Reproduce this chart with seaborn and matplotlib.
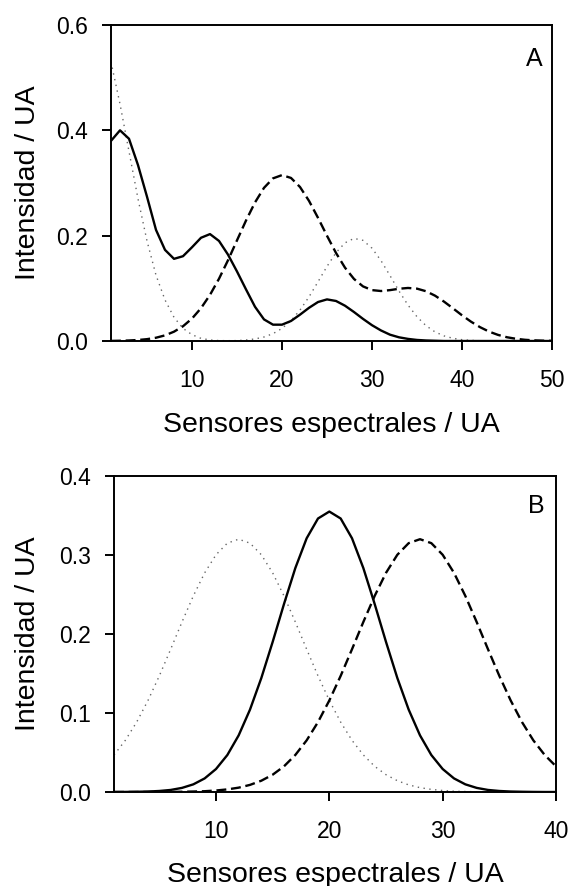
import numpy as np
import pandas as pd
import matplotlib
matplotlib.use("Agg")
import matplotlib.pyplot as plt
import seaborn as sns

# ---------------- data ----------------
sensors_a = list(range(1, 51))
solid_a = [0.380, 0.400, 0.384, 0.334, 0.274, 0.211, 0.173, 0.156, 0.161, 0.178,
           0.196, 0.203, 0.190, 0.164, 0.132, 0.098, 0.065, 0.041, 0.031, 0.031,
           0.038, 0.050, 0.063, 0.074, 0.079, 0.076, 0.067, 0.055, 0.042, 0.030,
           0.020, 0.012, 0.007, 0.004, 0.002, 0.001, 0.0005, 0, 0, 0,
           0, 0, 0, 0, 0, 0, 0, 0, 0, 0]
dashed_a = [0.0002, 0.0005, 0.0010, 0.0019, 0.0035, 0.0062, 0.0107, 0.0177, 0.0280, 0.0426,
            0.0623, 0.0876, 0.1182, 0.1533, 0.1911, 0.2287, 0.2631, 0.2908, 0.3088, 0.3150,
            0.3096, 0.2924, 0.2661, 0.2339, 0.1998, 0.1672, 0.1392, 0.1178, 0.1037, 0.0966,
            0.0949, 0.0966, 0.0992, 0.1007, 0.0994, 0.0945, 0.0861, 0.0748, 0.0620, 0.0488,
            0.0367, 0.0263, 0.0179, 0.0116, 0.0071, 0.0042, 0.0023, 0.0012, 0.0006, 0.0003]
dotted_a = [0.530, 0.450, 0.360, 0.270, 0.190, 0.125, 0.078, 0.045, 0.024, 0.012,
            0.005, 0.002, 0.0008, 0.0006, 0.0008, 0.0019, 0.0039, 0.0076, 0.0139, 0.0239,
            0.0386, 0.0587, 0.0838, 0.1124, 0.1416, 0.1677, 0.1864, 0.1948, 0.1911, 0.1762,
            0.1526, 0.1242, 0.0949, 0.0682, 0.0460, 0.0291, 0.0173, 0.0097, 0.0051, 0.0025,
            0.0012, 0.0005, 0.0002, 0, 0, 0, 0, 0, 0, 0]

sensors_b = list(range(1, 41))
dotted_b = [0.0469, 0.0654, 0.0885, 0.1159, 0.1470, 0.1807, 0.2152, 0.2482, 0.2774, 0.3003,
            0.3150, 0.3200, 0.3150, 0.3003, 0.2774, 0.2482, 0.2152, 0.1807, 0.1470, 0.1159,
            0.0885, 0.0654, 0.0469, 0.0325, 0.0219, 0.0143, 0.0090, 0.0055, 0.0033, 0.0019,
            0.0010, 0.0006, 0.0003, 0.0001, 0, 0, 0, 0, 0, 0]
solid_b = [0.0000, 0.0001, 0.0003, 0.0006, 0.0013, 0.0026, 0.0052, 0.0097, 0.0172, 0.0291,
           0.0468, 0.0717, 0.1043, 0.1443, 0.1900, 0.2380, 0.2835, 0.3212, 0.3462, 0.3550,
           0.3462, 0.3212, 0.2835, 0.2380, 0.1900, 0.1443, 0.1043, 0.0717, 0.0468, 0.0291,
           0.0172, 0.0097, 0.0052, 0.0026, 0.0013, 0.0006, 0.0003, 0.0001, 0.0000, 0.0000]
dashed_b = [0, 0, 0, 0, 0.0001, 0.0001, 0.0003, 0.0006, 0.0010, 0.0019,
            0.0033, 0.0055, 0.0090, 0.0143, 0.0219, 0.0325, 0.0469, 0.0654, 0.0885, 0.1159,
            0.1470, 0.1807, 0.2152, 0.2482, 0.2774, 0.3003, 0.3150, 0.3200, 0.3150, 0.3003,
            0.2774, 0.2482, 0.2152, 0.1807, 0.1470, 0.1159, 0.0885, 0.0654, 0.0469, 0.0325]

xticks_a = [10, 20, 30, 40, 50]
yticks_a = [0.0, 0.2, 0.4, 0.6]
xticks_b = [10, 20, 30, 40]
yticks_b = [0.0, 0.1, 0.2, 0.3, 0.4]
xlabel = "Sensores espectrales / UA"
ylabel = "Intensidad / UA"

# ---------------- style ----------------
sns.set_style("ticks")
plt.rcParams['font.family'] = ['Liberation Sans', 'DejaVu Sans']
plt.rcParams['text.color'] = 'black'
plt.rcParams['axes.labelcolor'] = 'black'
plt.rcParams['xtick.color'] = 'black'
plt.rcParams['ytick.color'] = 'black'
plt.rcParams['axes.edgecolor'] = 'black'

fig = plt.figure(figsize=(5.72, 8.86), dpi=100)
ax_a = fig.add_axes([111/572, 1-341/886, 441/572, 316/886])
ax_b = fig.add_axes([114/572, 1-792/886, 442/572, 316/886])

df_a = pd.DataFrame({"x": sensors_a, "solid": solid_a, "dashed": dashed_a, "dotted": dotted_a})
df_b = pd.DataFrame({"x": sensors_b, "solid": solid_b, "dashed": dashed_b, "dotted": dotted_b})

def draw(ax, df):
    sns.lineplot(data=df, x="x", y="dotted", ax=ax, color="0.4", linewidth=1.0,
                 linestyle=(0, (1, 3.2)))
    sns.lineplot(data=df, x="x", y="dashed", ax=ax, color="black", linewidth=1.7,
                 linestyle=(0, (4.2, 2.0)))
    sns.lineplot(data=df, x="x", y="solid", ax=ax, color="black", linewidth=1.7)

draw(ax_a, df_a)
draw(ax_b, df_b)

for ax, xt, yt, xmax, ymax in [(ax_a, xticks_a, yticks_a, 50, 0.6),
                                (ax_b, xticks_b, yticks_b, 40, 0.4)]:
    ax.set_xlim(1, xmax)
    ax.set_ylim(0, ymax)
    ax.set_xticks(xt)
    ax.set_yticks(yt)
    ax.set_yticklabels([f"{v:.1f}" for v in yt])
    ax.set_xticklabels([str(v) for v in xt])
    for s in ax.spines.values():
        s.set_linewidth(1.4)
        s.set_color("black")
        s.set_visible(True)
    ax.tick_params(axis="both", direction="out", length=6.5, width=1.4,
                   labelsize=16.5, colors="black", top=False, right=False)
    ax.tick_params(axis="x", pad=14)
    ax.tick_params(axis="y", pad=10)
    ax.set_xlabel(xlabel, fontsize=20.5, color="black")
    ax.set_ylabel(ylabel, fontsize=20.5, color="black")

ax_a.xaxis.set_label_coords(0.5, (341-411.6)/316)
ax_b.xaxis.set_label_coords(0.5, (792-861.6)/316)
ax_a.yaxis.set_label_coords((41-111)/441, 0.5)
ax_b.yaxis.set_label_coords((41-114)/442, 0.5)

ax_a.text(0.959, 0.870, "A", transform=ax_a.transAxes, ha="center", va="baseline",
          fontsize=18, color="black")
ax_b.text(0.956, 0.883, "B", transform=ax_b.transAxes, ha="center", va="baseline",
          fontsize=18, color="black")

fig.savefig("out.png", dpi=100)
